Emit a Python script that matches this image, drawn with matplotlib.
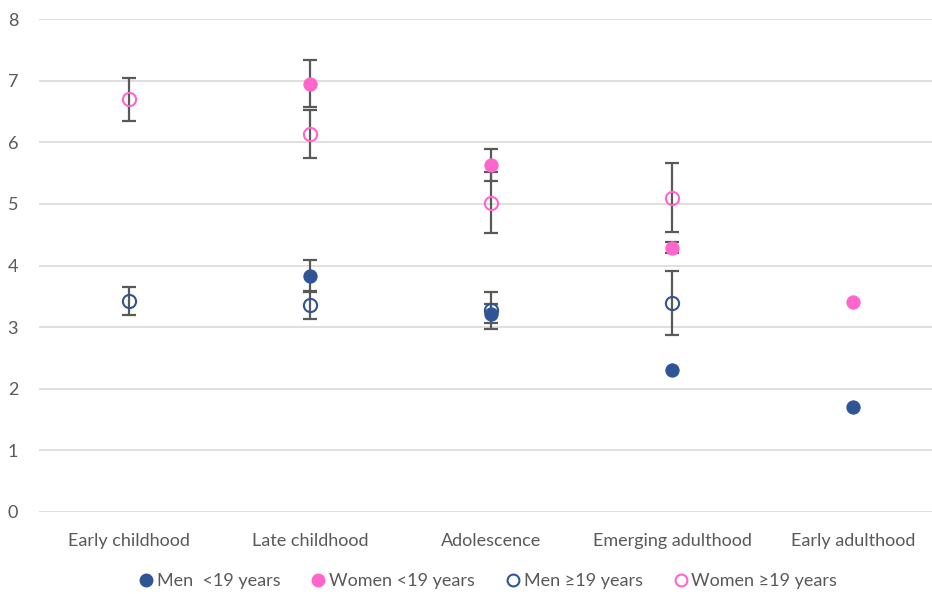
import numpy as np
import matplotlib
matplotlib.use("Agg")
import matplotlib.pyplot as plt
from matplotlib.lines import Line2D

categories = ["Early childhood", "Late childhood", "Adolescence", "Emerging adulthood", "Early adulthood"]

men_u19 = [np.nan, 3.83, 3.22, 2.30, 1.70]
men_u19_err = [np.nan, 0.26, 0.16, np.nan, np.nan]
women_u19 = [np.nan, 6.95, 5.63, 4.29, 3.40]
women_u19_err = [np.nan, 0.38, 0.26, 0.09, np.nan]
men_o19 = [3.42, 3.36, 3.27, 3.39, np.nan]
men_o19_err = [0.23, 0.23, 0.30, 0.52, np.nan]
women_o19 = [6.70, 6.13, 5.02, 5.10, np.nan]
women_o19_err = [0.35, 0.39, 0.49, 0.56, np.nan]

labels = ["Men  <19 years", "Women <19 years", "Men \u226519 years", "Women \u226519 years"]

BLUE = "#2F5597"
PINK = "#FF66CC"
ERR = "#595959"
TXT = "#595959"

plt.rcParams['font.family'] = ['Lato', 'DejaVu Sans']

W, H = 932, 594
fig = plt.figure(figsize=(W / 100, H / 100), dpi=100)
left, right, top, bottom = 39, 932, 19, 512
ax = fig.add_axes([left / W, (H - bottom) / H, (right - left) / W, (bottom - top) / H])

x = np.arange(1, len(categories) + 1)
ms = 9.5

series = [
    (men_u19, men_u19_err, BLUE, True),
    (women_u19, women_u19_err, PINK, True),
    (men_o19, men_o19_err, BLUE, False),
    (women_o19, women_o19_err, PINK, False),
]
for vals, errs, col, filled in series:
    vals = np.array(vals, dtype=float)
    errs = np.array(errs, dtype=float)
    m = ~np.isnan(errs) & ~np.isnan(vals)
    ax.errorbar(x[m], vals[m], yerr=errs[m], fmt='none', ecolor=ERR,
                elinewidth=1.6, capsize=5.2, capthick=1.6, zorder=2)
for vals, errs, col, filled in series:
    ax.plot(x, vals, linestyle='none', marker='o', markersize=ms,
            markerfacecolor=col if filled else 'none',
            markeredgecolor=col, markeredgewidth=1.5 if not filled else 0.8,
            zorder=3)

ax.set_xlim(0.503, 5.436)
ax.set_ylim(0, 8)
ax.set_yticks(range(0, 9))
ax.set_xticks(x)
ax.set_xticklabels(categories)
ax.grid(axis='y', color='#D9D9D9', linewidth=1.2)
ax.set_axisbelow(True)
for s in ax.spines.values():
    s.set_visible(False)
ax.tick_params(axis='both', length=0, labelsize=13, colors=TXT)
ax.tick_params(axis='y', pad=15)
ax.tick_params(axis='x', pad=15)

handles = []
for vals, errs, col, filled in series:
    handles.append(Line2D([], [], linestyle='none', marker='o', markersize=8.5,
                          markerfacecolor=col if filled else 'none',
                          markeredgecolor=col, markeredgewidth=1.5))
fig.legend(handles, labels, loc='center', bbox_to_anchor=(487 / W, 1 - 581 / H),
           ncol=4, frameon=False, fontsize=13, labelcolor=TXT,
           handletextpad=0.1, columnspacing=1.6, handlelength=1.0)

fig.savefig("out.png", dpi=100)
